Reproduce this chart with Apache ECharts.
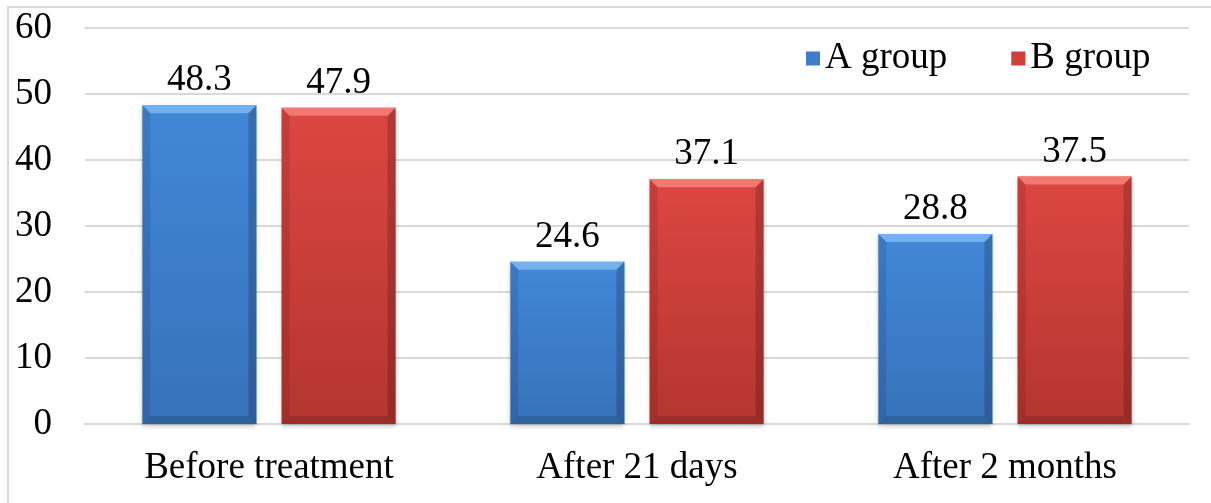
<!DOCTYPE html>
<html>
<head>
<meta charset="utf-8">
<script src="https://cdn.jsdelivr.net/npm/echarts@6/dist/echarts.min.js"></script>
<style>
  html, body { margin: 0; padding: 0; background: #ffffff; }
  #chart { width: 1211px; height: 503px; }
</style>
</head>
<body>
<div id="chart"></div>
<script>
// Chart data
const categories = ['Before treatment', 'After 21 days', 'After 2 months'];
const seriesNames = ['A group', 'B group'];
const groupA = [48.3, 24.6, 28.8];
const groupB = [47.9, 37.1, 37.5];
const yMin = 0, yMax = 60, yStep = 10;

// Bar geometry shared by the bars and their bevel overlay
const BAR_WIDTH_RATIO = 0.31;
const BAR_GAP_RATIO = 0.22;

const FONT = '"Liberation Serif", "Times New Roman", serif';
const FONT_SIZE = 37;

function fillGradient(top, bottom) {
  return new echarts.graphic.LinearGradient(0, 0, 0, 1, [
    { offset: 0, color: top },
    { offset: 1, color: bottom }
  ]);
}

const palette = [
  { fill: fillGradient('#4287d6', '#3672ba'), light: '#78b6f0', legend: '#3c7ecb' },
  { fill: fillGradient('#dc4642', '#b5352f'), light: '#f47d77', legend: '#d03e3a' }
];

const bevelData = categories.map((c, i) => [i, groupA[i], groupB[i]]);

// Bevelled edges drawn on top of each bar, placed with the same band maths as the bars
function renderBevel(params, api) {
  const band = api.size([1, 0])[0];
  const bw = band * BAR_WIDTH_RATIO;
  const gap = bw * BAR_GAP_RATIO;
  const b = 8;
  const children = [];
  [1, 2].forEach((dim, k) => {
    const v = api.value(dim);
    const top = api.coord([api.value(0), v]);
    const base = api.coord([api.value(0), 0]);
    const cx = top[0] + (k === 0 ? -(bw + gap) / 2 : (bw + gap) / 2);
    const x0 = cx - bw / 2, x1 = cx + bw / 2;
    const y0 = top[1], y1 = base[1];
    children.push(
      { type: 'polygon', shape: { points: [[x0, y0], [x1, y0], [x1 - b, y0 + b], [x0 + b, y0 + b]] },
        style: { fill: palette[k].light, opacity: 0.9 } },
      { type: 'polygon', shape: { points: [[x0, y0], [x0 + b, y0 + b], [x0 + b, y1 - b], [x0, y1]] },
        style: { fill: 'rgba(0,0,0,0.10)' } },
      { type: 'polygon', shape: { points: [[x1, y0], [x1 - b, y0 + b], [x1 - b, y1 - b], [x1, y1]] },
        style: { fill: 'rgba(0,0,0,0.18)' } },
      { type: 'polygon', shape: { points: [[x0, y1], [x0 + b, y1 - b], [x1 - b, y1 - b], [x1, y1]] },
        style: { fill: 'rgba(0,0,0,0.14)' } }
    );
  });
  return { type: 'group', children: children };
}

const labelStyle = {
  show: true,
  position: 'top',
  distance: 6,
  fontFamily: FONT,
  fontSize: FONT_SIZE,
  color: '#000000'
};

const chart = echarts.init(document.getElementById('chart'), null, { renderer: 'canvas' });

chart.setOption({
  animation: false,
  backgroundColor: '#ffffff',
  graphic: [{
    type: 'rect',
    shape: { x: 8, y: 7, width: 1400, height: 700 },
    style: { fill: 'none', stroke: '#d9d9d9', lineWidth: 2 },
    silent: true,
    z: -10
  }],
  grid: { left: 85, right: 22, top: 28, bottom: 79, containLabel: false },
  legend: {
    data: seriesNames.map((n, i) => ({ name: n, itemStyle: { color: palette[i].legend } })),
    left: 806,
    top: 40,
    padding: 0,
    icon: 'rect',
    itemWidth: 14,
    itemHeight: 14,
    itemGap: 64,
    textStyle: { fontFamily: FONT, fontSize: FONT_SIZE, color: '#000000', lineHeight: 37 }
  },
  xAxis: {
    type: 'category',
    data: categories,
    axisTick: { show: false },
    axisLine: { lineStyle: { color: '#d9d9d9', width: 2 } },
    axisLabel: { fontFamily: FONT, fontSize: FONT_SIZE, color: '#000000', margin: 26 }
  },
  yAxis: {
    type: 'value',
    min: yMin,
    max: yMax,
    interval: yStep,
    axisLine: { show: false },
    axisTick: { show: false },
    axisLabel: { fontFamily: FONT, fontSize: FONT_SIZE, color: '#000000', margin: 33 },
    splitLine: { lineStyle: { color: '#d9d9d9', width: 2 } }
  },
  series: [
    {
      name: seriesNames[0],
      type: 'bar',
      data: groupA,
      barWidth: (BAR_WIDTH_RATIO * 100) + '%',
      barGap: (BAR_GAP_RATIO * 100) + '%',
      itemStyle: { color: palette[0].fill, shadowBlur: 4, shadowColor: 'rgba(0,0,0,0.25)', shadowOffsetY: 2 },
      label: labelStyle
    },
    {
      name: seriesNames[1],
      type: 'bar',
      data: groupB,
      barWidth: (BAR_WIDTH_RATIO * 100) + '%',
      barGap: (BAR_GAP_RATIO * 100) + '%',
      itemStyle: { color: palette[1].fill, shadowBlur: 4, shadowColor: 'rgba(0,0,0,0.25)', shadowOffsetY: 2 },
      label: labelStyle
    },
    {
      name: 'bevel',
      type: 'custom',
      renderItem: renderBevel,
      data: bevelData,
      encode: { x: 0, y: [1, 2] },
      silent: true,
      z: 3,
      tooltip: { show: false }
    }
  ]
});
</script>
</body>
</html>
